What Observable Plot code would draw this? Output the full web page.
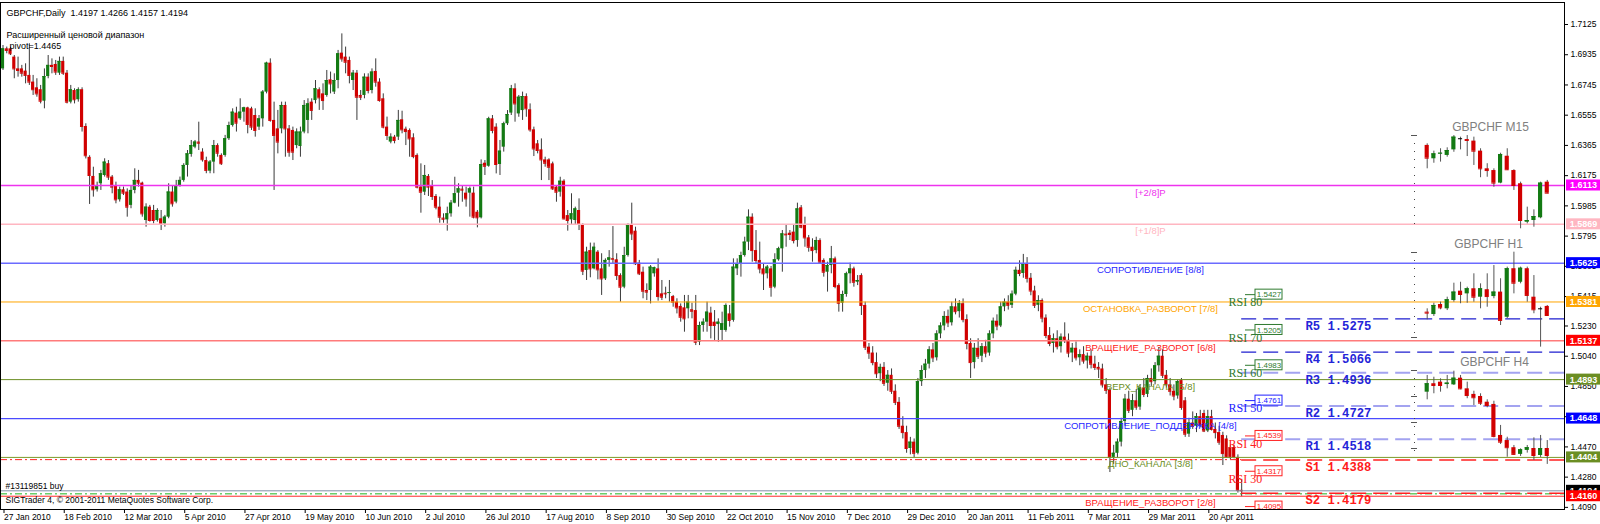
<!DOCTYPE html>
<html>
<head>
<meta charset="utf-8">
<script src="https://cdn.jsdelivr.net/npm/d3@7"></script>
<script src="https://cdn.jsdelivr.net/npm/@observablehq/plot@0.6"></script>
<style>
html,body{margin:0;padding:0;background:#fff;}
#chart svg{display:block;}
</style>
</head>
<body>
<div id="chart"></div>
<script>
// ===== DATA (prices × 10000) =====
// Daily GBPCHF candles, one per bar, starting 27 Jan 2010
const dailyOpen = [
16846,16972,16972,16920,16846,16846,16832,16805,16763,16727,
16715,16643,16798,16868,16874,16819,16893,16819,16637,16710,
16652,16715,16484,16290,16170,16086,16124,16176,16250,16166,
16113,16023,16086,16072,15988,16082,16145,16128,15893,15977,
15956,15893,15904,15872,15914,16072,16009,16113,16145,16239,
16308,16354,16386,16323,16270,16203,16260,16364,16302,16302,
16407,16490,16568,16532,16574,16601,16595,16553,16480,16532,
16700,16882,16522,16469,16469,16616,16469,16459,16364,16358,
16449,16522,16637,16647,16715,16689,16679,16777,16700,16773,
16945,16920,16899,16773,16819,16679,16679,16794,16710,16830,
16763,16658,16480,16386,16417,16417,16526,16467,16459,16413,
16302,16103,16071,16170,16107,16044,15977,15908,15897,15935,
16002,16065,16090,16065,16065,16065,15945,15910,16253,16234,
16532,16480,16245,16354,16501,16568,16721,16563,16584,16672,
16589,16463,16375,16337,16274,16274,16249,16103,16071,16140,
15924,15897,15893,15956,15868,15579,15704,15589,15694,15589,
15526,15642,15654,15646,15547,15474,15673,15868,15826,15625,
15568,15453,15453,15558,15589,15432,15436,15436,15415,15380,
15353,15344,15338,15332,15327,15128,15233,15254,15311,15254,
15239,15202,15202,15306,15265,15589,15621,15673,15757,15914,
15704,15642,15589,15558,15589,15474,15646,15715,15807,15813,
15820,15767,15973,15868,15784,15725,15704,15767,15642,15568,
15610,15652,15484,15373,15428,15558,15589,15505,15547,15359,
15097,15060,15000,14930,14970,14870,14920,14820,14750,14600,
14560,14460,14500,14430,14880,14950,14990,15080,15030,15180,
15230,15290,15250,15350,15320,15370,15270,15120,15000,15090,
15040,15100,15060,15180,15260,15230,15350,15380,15360,15430,
15580,15560,15620,15530,15450,15360,15390,15280,15170,15120,
15150,15100,15160,15140,15060,15090,15030,15050,15010,15040,
14990,14970,14960,14860,14826,14404,14430,14500,14630,14770,
14700,14760,14720,14840,14800,14900,14880,14980,15040,14920,
14860,14820,14790,14887,14760,14550,14620,14600,14660,14680,
14570,14660,14580,14560,14542,14520,14466,14466,14404,14197];
const dailyHigh = [
16993,16983,16983,16930,16920,16868,16878,17004,16805,16784,
16742,16846,16930,16909,16899,16920,16920,16836,16742,16721,
16727,16727,16501,16300,16228,16134,16208,16281,16270,16176,
16134,16103,16103,16092,16113,16218,16208,16134,15998,15988,
15988,15967,15956,15925,16124,16113,16145,16166,16250,16333,
16396,16396,16511,16344,16291,16270,16396,16375,16312,16428,
16511,16595,16605,16658,16605,16605,16605,16595,16553,16710,
16888,16909,16637,16585,16637,16637,16490,16480,16469,16480,
16647,16658,16658,16773,16727,16752,16836,16826,16815,16962,
17066,16983,16920,16836,16836,16710,16815,16815,16846,16909,
16784,16689,16543,16438,16428,16585,16580,16480,16469,16438,
16312,16249,16239,16182,16144,16056,16040,15935,15977,16019,
16165,16124,16113,16103,16103,16103,15956,16274,16270,16542,
16553,16501,16396,16511,16584,16742,16752,16679,16700,16689,
16626,16480,16396,16406,16291,16281,16260,16113,16165,16149,
15956,16061,15977,16029,15872,15725,15751,15751,15704,15684,
15652,15704,15855,15684,15558,15725,15872,16002,15851,15642,
15600,15495,15610,15600,15652,15516,15474,15516,15422,15401,
15369,15422,15422,15373,15422,15254,15275,15380,15348,15327,
15275,15317,15369,15359,15652,15652,15694,15788,15960,15935,
15830,15757,15621,15610,15604,15684,15725,15830,15862,15830,
15862,16002,15987,15914,15799,15778,15788,15778,15652,15631,
15730,15663,15495,15449,15568,15625,15600,15547,15558,15380,
15120,15100,15060,14990,15000,14950,14960,14860,14780,14660,
14600,14530,14520,14900,14980,15020,15100,15120,15200,15250,
15320,15330,15380,15400,15390,15400,15300,15150,15120,15150,
15120,15140,15200,15280,15300,15380,15400,15420,15450,15600,
15640,15680,15660,15560,15480,15420,15400,15300,15220,15180,
15200,15180,15250,15180,15120,15130,15080,15100,15060,15080,
15040,15000,14990,14900,14840,14480,14520,14650,14800,14820,
14800,14830,14860,14900,14920,14960,15000,15095,15080,14950,
14900,14860,14890,14900,14780,14650,14690,14680,14700,14700,
14700,14700,14620,14600,14562,14540,14480,14480,14420,14266];
const dailyLow = [
16836,16941,16930,16784,16794,16794,16752,16742,16679,16668,
16626,16595,16784,16815,16805,16805,16805,16626,16626,16626,
16637,16449,16280,15994,16040,16072,16082,16166,16145,16061,
15998,16009,16050,15914,15967,16061,16103,15914,15851,15883,
15872,15883,15830,15851,15904,15977,15998,16103,16134,16166,
16291,16344,16333,16260,16187,16187,16187,16291,16239,16291,
16396,16480,16449,16522,16511,16438,16459,16417,16459,16480,
16689,16511,16082,16312,16438,16291,16291,16270,16344,16291,
16438,16438,16522,16626,16585,16585,16668,16689,16685,16721,
16888,16815,16752,16710,16522,16647,16658,16689,16689,16731,
16637,16469,16396,16375,16375,16396,16438,16364,16291,16281,
16092,15939,16050,16044,16019,15960,15876,15876,15826,15914,
15998,15977,16008,15977,15914,15903,15847,15903,16176,16228,
16438,16186,16176,16323,16490,16553,16511,16542,16522,16542,
16448,16295,16312,16144,16228,16144,16082,16008,16040,15897,
15826,15862,15862,15830,15547,15516,15533,15583,15520,15422,
15516,15600,15617,15516,15380,15464,15663,15767,15610,15547,
15401,15390,15369,15537,15386,15390,15401,15380,15348,15306,
15254,15191,15275,15275,15107,15107,15191,15191,15149,15139,
15128,15139,15191,15223,15254,15547,15537,15663,15704,15631,
15621,15558,15453,15526,15411,15464,15637,15568,15725,15767,
15746,15725,15841,15725,15694,15631,15684,15621,15537,15443,
15558,15464,15317,15317,15411,15495,15474,15484,15296,15076,
15020,14980,14900,14880,14850,14820,14800,14730,14580,14520,
14430,14420,14400,14420,14850,14900,14960,15000,15010,15150,
15200,15220,15230,15300,15280,15250,15080,14900,14960,15020,
15000,15030,15040,15150,15200,15220,15320,15330,15340,15420,
15540,15530,15500,15420,15340,15320,15250,15150,15100,15060,
15080,15060,15120,15030,15000,15010,14980,14990,14960,14960,
14950,14900,14840,14800,14309,14360,14400,14470,14600,14680,
14660,14700,14700,14780,14780,14850,14860,14940,14900,14840,
14790,14760,14770,14700,14530,14530,14580,14560,14590,14560,
14560,14570,14520,14480,14353,14400,14390,14395,14180,14157];
const dailyClose = [
16972,16962,16941,16846,16836,16819,16805,16763,16715,16689,
16643,16798,16868,16861,16826,16893,16819,16637,16715,16652,
16715,16484,16300,16176,16086,16113,16187,16260,16166,16103,
16023,16086,16065,15977,16082,16145,16128,15935,15977,15893,
15893,15956,15872,15914,16072,15998,16113,16145,16239,16312,
16364,16386,16379,16275,16208,16260,16364,16316,16250,16407,
16490,16574,16505,16574,16601,16497,16480,16459,16532,16700,
16882,16522,16428,16386,16616,16469,16323,16323,16449,16449,
16616,16626,16585,16721,16664,16647,16773,16752,16773,16941,
16909,16888,16805,16819,16668,16668,16794,16710,16826,16763,
16647,16480,16428,16417,16396,16522,16463,16452,16406,16295,
16103,16071,16176,16103,16044,15977,15914,15901,15935,16002,
16061,16092,16084,16029,16092,15914,15910,16245,16234,16532,
16459,16245,16329,16501,16559,16721,16626,16668,16672,16595,
16463,16343,16333,16274,16253,16228,16092,16071,16140,15903,
15893,15935,15966,15868,15575,15694,15589,15725,15583,15526,
15642,15658,15650,15547,15474,15673,15862,15809,15621,15558,
15449,15443,15600,15596,15415,15411,15432,15440,15380,15344,
15285,15275,15380,15323,15128,15233,15254,15317,15233,15233,
15254,15244,15359,15265,15600,15621,15673,15757,15914,15704,
15642,15589,15558,15600,15474,15646,15715,15809,15803,15805,
15767,15966,15851,15784,15725,15704,15767,15631,15568,15610,
15652,15478,15373,15428,15558,15589,15505,15516,15359,15097,
15060,15000,14930,14970,14870,14920,14820,14750,14600,14560,
14460,14500,14430,14880,14950,14990,15080,15030,15180,15230,
15290,15250,15350,15320,15370,15270,15120,15000,15090,15040,
15100,15060,15180,15260,15230,15350,15380,15360,15430,15580,
15560,15620,15530,15450,15360,15390,15280,15170,15120,15150,
15100,15160,15140,15060,15090,15030,15050,15010,15040,14990,
14970,14960,14860,14826,14404,14430,14500,14630,14770,14700,
14760,14720,14840,14800,14900,14880,14980,15040,14920,14860,
14820,14790,14880,14718,14550,14620,14600,14660,14610,14570,
14660,14580,14560,14500,14428,14404,14404,14410,14197,14194];

const dateLabels = ["27 Jan 2010","18 Feb 2010","12 Mar 2010","5 Apr 2010","27 Apr 2010","19 May 2010",
  "10 Jun 2010","2 Jul 2010","26 Jul 2010","17 Aug 2010","8 Sep 2010","30 Sep 2010","22 Oct 2010",
  "15 Nov 2010","7 Dec 2010","29 Dec 2010","20 Jan 2011","11 Feb 2011","7 Mar 2011","29 Mar 2011","20 Apr 2011"];
const yTickValues = [1.7125,1.6935,1.6745,1.6555,1.6365,1.6175,1.5985,1.5795,1.5605,1.5415,
  1.5230,1.5040,1.4850,1.4660,1.4470,1.4280,1.4090];

// Murrey levels
const levelPrices = [1.6113,1.5869,1.5625,1.5381,1.5137,1.4893,1.4648,1.4404,1.4160];
const levelNames = ["[+2/8]P","[+1/8]P","СОПРОТИВЛЕНИЕ [8/8]","ОСТАНОВКА_РАЗВОРОТ [7/8]",
  "ВРАЩЕНИЕ_РАЗВОРОТ [6/8]","ВЕРХ_КАНАЛА [5/8]","СОПРОТИВЛЕНИЕ_ПОДДЕРЖКА [4/8]",
  "ДНО_КАНАЛА [3/8]","ВРАЩЕНИЕ_РАЗВОРОТ [2/8]"];
// Pivot levels
const pivotNames = ["R5","R4","R3","R2","R1","S1","S2"];
const pivotPrices = [1.5275,1.5066,1.4936,1.4727,1.4518,1.4388,1.4179];
// RSI price levels
const rsiNames = ["RSI 80","RSI 70","RSI 60","RSI 50","RSI 40","RSI 30",""];
const rsiPrices = [1.5427,1.5205,1.4983,1.4761,1.4539,1.4317,1.4095];
const bidPrice = 1.4194;
const buyOrderPrice = 1.4175;
const slPrice = 1.4390;
const headerText = "GBPCHF,Daily  1.4197 1.4266 1.4157 1.4194";
const indicatorTitle = "Расширенный ценовой диапазон";
const pivotText = "pivot=1.4465";
const orderText = "#13119851 buy";
const copyrightText = "SIGTrader 4, © 2001-2011 MetaQuotes Software Corp.";

// Inset mini charts (values on the main price axis)
const m15Open  = [16365,16281,16312,16302,16337,16407,16402,16392,16329,16218,16207,16128,16297,16207,16124,15882,15893,15910,16134];
const m15High  = [16375,16329,16344,16350,16427,16417,16427,16417,16344,16250,16218,16316,16344,16212,16134,15977,15960,16134,16145];
const m15Low   = [16218,16253,16260,16291,16322,16337,16295,16239,16162,16165,16102,16124,16207,16082,15841,15872,15851,15904,16061];
const m15Close = [16285,16312,16316,16333,16417,16407,16396,16329,16218,16207,16128,16308,16212,16113,15893,15893,15918,16128,16065];
const h1Open  = [15317,15302,15365,15338,15390,15449,15432,15464,15411,15458,15415,15443,15285,15590,15505,15590,15411,15338,15353];
const h1High  = [15338,15373,15380,15411,15499,15505,15474,15558,15495,15558,15610,15527,15600,15694,15600,15600,15547,15348,15359];
const h1Low   = [15269,15290,15332,15327,15380,15370,15373,15380,15338,15348,15401,15233,15277,15432,15495,15380,15307,15097,15290];
const h1Close = [15311,15359,15344,15395,15443,15428,15464,15411,15464,15415,15443,15265,15590,15499,15593,15422,15332,15338,15296];
const h4Open  = [14814,14867,14877,14862,14860,14902,14835,14800,14787,14751,14737,14542,14510,14465,14423,14448,14460,14416,14460];
const h4High  = [14919,14908,14898,14919,14946,14919,14877,14820,14804,14766,14757,14605,14531,14479,14458,14479,14527,14542,14510];
const h4Low   = [14766,14804,14814,14835,14856,14829,14773,14730,14730,14716,14527,14485,14405,14416,14410,14431,14385,14404,14360];
const h4Close = [14867,14856,14856,14871,14902,14835,14793,14779,14745,14730,14536,14500,14465,14423,14452,14465,14416,14460,14416];
const miniTitles = ["GBPCHF M15","GBPCHF H1","GBPCHF H4"];

// ===== STYLES =====
const levelLineColors = ["#ee33ee","#ffb6c1","#6b6bff","#ffa500","#ff7b7b","#6b8e23","#4b4bff","#7d9a2a","#ff2a2a"];
const levelLineWidths = [1.5,1.5,1.5,1,1.5,1,1.2,1,1];
const levelTextColors = ["#ee33ee","#ffb6c1","#1f1fff","#ffa500","#ff2020","#6b8e23","#1f1fff","#6b8e23","#ff2020"];
const levelBoxColors  = ["#ff00ff","#ffb6c1","#0000ff","#ffa500","#ff0000","#6b8e23","#0000ff","#6b8e23","#ff0000"];
const pivotLineColors = ["#1f1fd0","#1f1fd0","#a3a3f0","#a3a3f0","#a3a3f0","#ff2020","#ff2020"];
const pivotLineWidths = [1.3,1.3,2,2,2,1.6,1.6];
const pivotTextColors = ["#2424d8","#2424d8","#2424d8","#2424d8","#2424d8","#ff1a1a","#ff1a1a"];
const rsiColors = ["#2f7a2f","#2f7a2f","#2f7a2f","#2020ff","#ff2020","#ff2020","#ff2020"];
const UP = "#137a13", DN = "#d10000";

// ===== LAYOUT CALIBRATION (pixels) =====
const X0 = 2.5, PX_PER_BAR = 3.765;
const Y_REF = 1.7125, Y_REF_PX = 24, PX_PER_UNIT = 1591;
const bAt = px => (px - X0) / PX_PER_BAR;
const pAt = py => Y_REF - (py - Y_REF_PX) / PX_PER_UNIT;
const PLOT_R = 1564, PLOT_T = 2, PLOT_B = 509;

const daily = dailyOpen.map((o, i) => ({i, o: o / 1e4, h: dailyHigh[i] / 1e4, l: dailyLow[i] / 1e4, c: dailyClose[i] / 1e4}));
function mini(O, Hh, L, C, startPx, stepPx) {
  return O.map((o, k) => ({i: bAt(startPx + k * stepPx), o: o / 1e4, h: Hh[k] / 1e4, l: L[k] / 1e4, c: C[k] / 1e4}));
}
const m15 = mini(m15Open, m15High, m15Low, m15Close, 1426.7, 6.67);
const h1 = mini(h1Open, h1High, h1Low, h1Close, 1426.7, 6.67);
const h4 = mini(h4Open, h4High, h4Low, h4Close, 1426.7, 6.67);

const cFill = d => d.c > d.o ? UP : d.c < d.o ? DN : "#000";
function candles(data, halfW, wick) {
  return [
    Plot.ruleX(data, {x: "i", y1: "l", y2: "h", stroke: wick, strokeWidth: 1}),
    Plot.rect(data, {x1: d => d.i - halfW, x2: d => d.i + halfW, y1: "o", y2: "c", fill: cFill}),
    Plot.ruleY(data, {y: "c", x1: d => d.i - halfW, x2: d => d.i + halfW, stroke: cFill, strokeWidth: 1})
  ];
}

const lastBar = dailyOpen.length - 1;
const xMin = bAt(0), xMax = bAt(PLOT_R);
const boxH = 5.5 / PX_PER_UNIT;
const font = "'Liberation Sans', Arial, sans-serif";

const marks = [];
// daily candles
marks.push(...candles(daily, 0.42, "#3a3a3a"));
// Murrey level lines
levelPrices.forEach((p, k) => marks.push(Plot.ruleY([p], {stroke: levelLineColors[k], strokeWidth: levelLineWidths[k]})));
// bid, order, stop lines
marks.push(Plot.ruleY([bidPrice], {stroke: "#8090a8", strokeWidth: 1}));
marks.push(Plot.ruleY([buyOrderPrice], {stroke: "#1db51d", strokeWidth: 1, strokeDasharray: "7,3,2,3"}));
marks.push(Plot.ruleY([slPrice], {x1: () => xMin, x2: () => lastBar, stroke: "#ff2020", strokeWidth: 1, strokeDasharray: "7,3,2,3"}));
// pivot dashed lines
pivotPrices.forEach((p, k) => marks.push(Plot.ruleY([p], {x1: () => lastBar, x2: () => xMax, stroke: pivotLineColors[k], strokeWidth: pivotLineWidths[k], strokeDasharray: "15,7"})));
// level labels
levelPrices.forEach((p, k) => marks.push(Plot.text([levelNames[k]], {x: () => bAt(1150), y: () => p, text: d => d, dy: 7, fill: levelTextColors[k], fontSize: 9.5, fontFamily: font})));
// pivot labels
pivotPrices.forEach((p, k) => marks.push(Plot.text([pivotNames[k] + " " + p.toFixed(4)], {x: () => bAt(1305), y: () => p, text: d => d, dy: 7, textAnchor: "start", fill: pivotTextColors[k], fontSize: 12.2, fontWeight: "bold", fontFamily: "'Liberation Mono', 'DejaVu Sans Mono', monospace"})));
// RSI labels
rsiPrices.forEach((p, k) => {
  const clip = k === rsiPrices.length - 1;
  marks.push(Plot.ruleY([p], {x1: () => bAt(1245), x2: () => bAt(1255), stroke: rsiColors[k], strokeWidth: 1, clip}));
  marks.push(Plot.rect([p], {x1: () => bAt(1255), x2: () => bAt(1282), y1: () => p - 5 / PX_PER_UNIT, y2: () => p + 5 / PX_PER_UNIT, fill: "#fff", stroke: rsiColors[k], strokeWidth: 1, clip}));
  marks.push(Plot.text([p.toFixed(4)], {x: () => bAt(1268.5), y: () => p, text: d => d, fill: rsiColors[k], fontSize: 8, fontFamily: font, clip}));
  if (rsiNames[k]) marks.push(Plot.text([rsiNames[k]], {x: () => bAt(1228), y: () => p, text: d => d, dy: 8, textAnchor: "start", fill: rsiColors[k], fontSize: 12, fontFamily: "'Liberation Serif', 'Times New Roman', serif"}));
});
// inset mini charts
[[135, 228], [252, 340], [370, 458]].forEach(([a, b]) => {
  marks.push(Plot.ruleX([bAt(1414)], {y1: () => pAt(a), y2: () => pAt(b), stroke: "#444", strokeWidth: 1, strokeDasharray: "1,7"}));
});
[135, 252, 337, 370, 396, 422, 448].forEach(py => marks.push(Plot.ruleY([pAt(py)], {x1: () => bAt(1411), x2: () => bAt(1417), stroke: "#555"})));
marks.push(...candles(m15, 0.55, "#555"), ...candles(h1, 0.55, "#555"), ...candles(h4, 0.55, "#555"));
[[1490, 127], [1488, 244], [1494, 362]].forEach(([px, py], k) =>
  marks.push(Plot.text([miniTitles[k]], {x: () => bAt(px), y: () => pAt(py), text: d => d, fill: "#808080", fontSize: 12, fontFamily: font})));
// axes and frame
marks.push(Plot.axisY(yTickValues, {anchor: "right", label: null, tickSize: 3, tickPadding: 3, tickFormat: d => d.toFixed(4), fontSize: 8.5, fontFamily: font}));
marks.push(Plot.axisX(d3.range(0, 16 * dateLabels.length, 16), {anchor: "bottom", label: null, tickSize: 4, tickPadding: 0, tickFormat: d => dateLabels[d / 16], textAnchor: "start", dx: 1, fontSize: 8.5, fontFamily: font}));
marks.push(Plot.frame({stroke: "#000", strokeWidth: 1}));
// right-axis price boxes
levelPrices.forEach((p, k) => {
  if (k === levelPrices.length - 1) {
    marks.push(Plot.rect([bidPrice], {x1: () => bAt(1566), x2: () => bAt(1600), y1: () => bidPrice - boxH, y2: () => bidPrice + boxH, fill: "#000"}));
    marks.push(Plot.text([bidPrice.toFixed(4)], {x: () => bAt(1583), y: () => bidPrice, text: d => d, fill: "#fff", fontSize: 9, fontWeight: "bold", fontFamily: font}));
  }
  marks.push(Plot.rect([p], {x1: () => bAt(1566), x2: () => bAt(1600), y1: () => p - boxH, y2: () => p + boxH, fill: levelBoxColors[k]}));
  marks.push(Plot.text([p.toFixed(4)], {x: () => bAt(1583), y: () => p, text: d => d, fill: "#fff", fontSize: 9, fontWeight: "bold", fontFamily: font}));
});
// corner texts
marks.push(Plot.text([headerText], {frameAnchor: "top-left", dx: 6, dy: 7, text: d => d, textAnchor: "start", fontSize: 9, fontFamily: font, fill: "#000"}));
marks.push(Plot.text([indicatorTitle], {frameAnchor: "top-left", dx: 6, dy: 29, text: d => d, textAnchor: "start", fontSize: 9, fontFamily: font, fill: "#000"}));
marks.push(Plot.text([pivotText], {frameAnchor: "top-left", dx: 9, dy: 40, text: d => d, textAnchor: "start", fontSize: 9, fontFamily: font, fill: "#000"}));
marks.push(Plot.text([orderText], {frameAnchor: "bottom-left", dx: 5, dy: -21, text: d => d, textAnchor: "start", fontSize: 8.5, fontFamily: font, fill: "#000"}));
marks.push(Plot.text([copyrightText], {frameAnchor: "bottom-left", dx: 5, dy: -7, text: d => d, textAnchor: "start", fontSize: 8.5, fontFamily: font, fill: "#000"}));

const chart = Plot.plot({
  width: 1600, height: 524,
  marginLeft: 0, marginRight: 1600 - PLOT_R, marginTop: PLOT_T, marginBottom: 524 - PLOT_B,
  x: {type: "linear", domain: [xMin, xMax]},
  y: {type: "linear", domain: [pAt(PLOT_B), pAt(PLOT_T)]},
  style: {fontFamily: font, fontSize: "8.5px", background: "#fff", color: "#000", overflow: "visible"},
  marks
});
document.getElementById("chart").appendChild(chart);
</script>
</body>
</html>
